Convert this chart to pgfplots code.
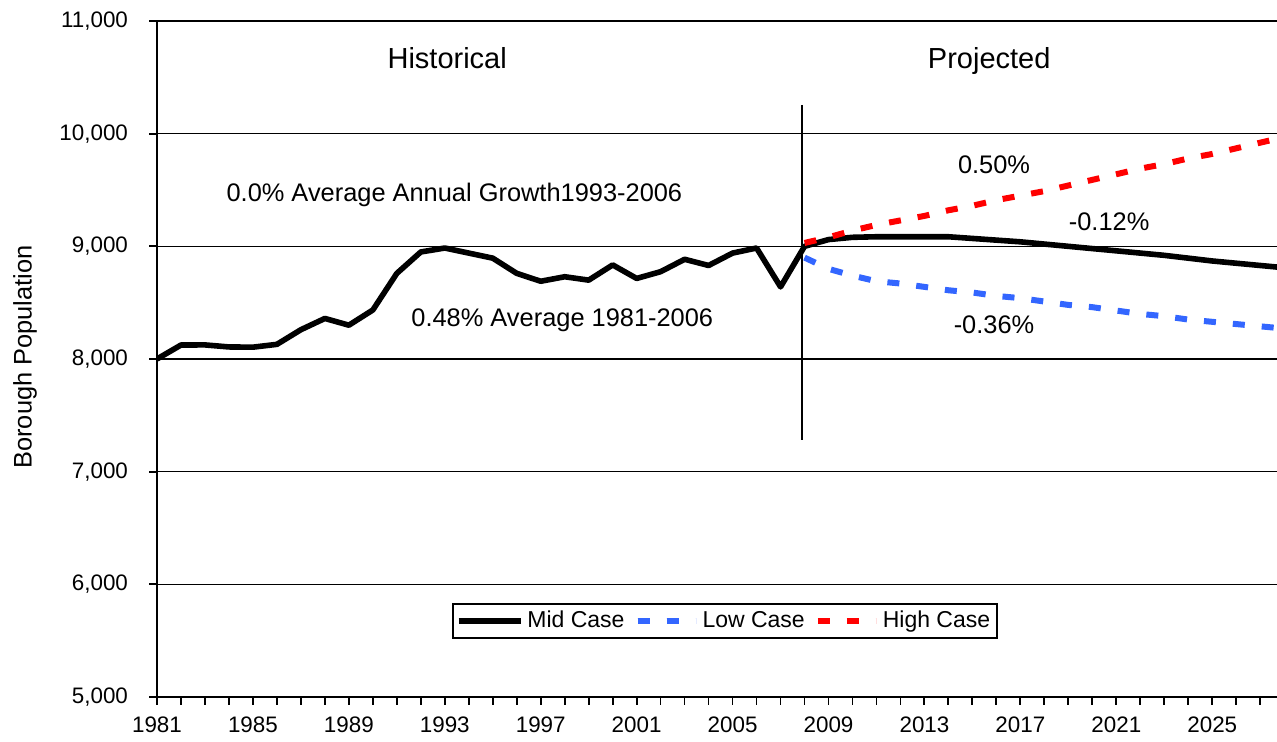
\documentclass[border=0pt]{standalone}
\usepackage{pgfplots}
\pgfplotsset{compat=1.18}
\usepackage{fontspec}
\setmainfont{Liberation Sans}
\definecolor{lowblue}{RGB}{51,102,255}
\definecolor{highred}{RGB}{255,0,0}
\pgfplotsset{shortlegend/.style={legend image code/.code={\draw[##1] (0pt,0pt) -- (20.5pt,0pt); \path (0pt,0pt) -- (29pt,0pt);}}}
\begin{document}
\begin{tikzpicture}
\begin{axis}[
  at={(0,0)}, anchor=south west,
  scale only axis, width=560pt, height=338pt,
  xmin=1981, xmax=2027.7, ymin=5000, ymax=11000,
  axis lines=left, axis line style={-, line width=1pt},
  tick align=outside, major tick length=4pt, minor tick length=4pt,
  tick style={black, line width=0.9pt},
  xtick={1981,1985,...,2025}, minor xtick={1981,...,2027},
  ytick={5000,6000,...,11000},
  scaled y ticks=false,
  /pgf/number format/assume math mode=true,
  x tick label style={/pgf/number format/1000 sep={}, font=\fontsize{11.2}{13}\selectfont, yshift=-2.5pt},
  y tick label style={/pgf/number format/1000 sep={,}, font=\fontsize{11.2}{13}\selectfont, xshift=-7pt},
  ymajorgrids, major grid style={black, line width=0.75pt},
  legend style={at={(284pt,38pt)}, anchor=center, draw=black, line width=0.75pt,
    font=\fontsize{11.5}{13}\selectfont, legend columns=3, inner sep=1.5pt,
    /tikz/every even column/.append style={column sep=3pt}},
  legend image code/.code={\draw[#1] (0pt,0pt) -- (31pt,0pt);},
  legend cell align=left,
]
\addplot[black, line width=2.8pt, line join=round] coordinates {
(1981,8000) (1982,8124) (1983,8125) (1984,8107) (1985,8105) (1986,8130)
(1987,8260) (1988,8360) (1989,8300) (1990,8435) (1991,8760) (1992,8950)
(1993,8985) (1994,8940) (1995,8895) (1996,8760) (1997,8690) (1998,8730)
(1999,8700) (2000,8835) (2001,8715) (2002,8775) (2003,8885) (2004,8830)
(2005,8940) (2006,8985) (2007,8640) (2008,9000) (2009,9060) (2010,9080)
(2011,9085) (2012,9085) (2013,9085) (2014,9085) (2015,9070) (2016,9055)
(2017,9040) (2018,9020) (2019,9000) (2020,8980) (2021,8960) (2022,8940)
(2023,8920) (2024,8895) (2025,8870) (2026,8850) (2027,8830) (2028,8810)
};
\addlegendentry{Mid Case}
\addplot[lowblue, line width=3pt, line cap=butt, dash pattern=on 6pt off 8.5pt, shortlegend] coordinates {
(2008,8900) (2009,8800) (2010,8740) (2011,8690) (2012,8670) (2013,8640)
(2014,8610) (2015,8590) (2016,8560) (2017,8540) (2018,8510) (2019,8480)
(2020,8460) (2021,8430) (2022,8400) (2023,8380) (2024,8350) (2025,8330)
(2026,8310) (2027,8290) (2028,8270)
};
\addlegendentry{Low Case}
\addplot[highred, line width=3pt, line cap=butt, dash pattern=on 6pt off 8.5pt, shortlegend] coordinates {
(2008,9030) (2009,9080) (2010,9140) (2011,9190) (2012,9230) (2013,9270)
(2014,9320) (2015,9360) (2016,9410) (2017,9450) (2018,9490) (2019,9540)
(2020,9590) (2021,9640) (2022,9690) (2023,9730) (2024,9780) (2025,9820)
(2026,9870) (2027,9920) (2028,9970)
};
\addlegendentry{High Case}
\draw[black, line width=0.75pt] (axis cs:2007.9,10255) -- (axis cs:2007.9,7282);
\node[anchor=base, font=\fontsize{14.5}{16}\selectfont] at (axis cs:1993.1,10574) {Historical};
\node[anchor=base, font=\fontsize{14.5}{16}\selectfont] at (axis cs:2015.7,10574) {Projected};
\node[font=\fontsize{12.7}{14}\selectfont] at (axis cs:1993.4,9456) {0.0\% Average Annual Growth1993-2006};
\node[font=\fontsize{12.7}{14}\selectfont] at (axis cs:1997.9,8347) {0.48\% Average 1981-2006};
\node[font=\fontsize{12.7}{14}\selectfont] at (axis cs:2015.9,9722) {0.50\%};
\node[font=\fontsize{12.7}{14}\selectfont] at (axis cs:2020.7,9216) {-0.12\%};
\node[font=\fontsize{12.7}{14}\selectfont] at (axis cs:2015.9,8303) {-0.36\%};
\end{axis}
\node[rotate=90, font=\fontsize{12.7}{14}\selectfont] at (-66pt,170pt) {Borough Population};
\pgfresetboundingbox
\path[use as bounding box] (-78.5pt,-22.5pt) rectangle (560pt,348.5pt);
\end{tikzpicture}
\end{document}
